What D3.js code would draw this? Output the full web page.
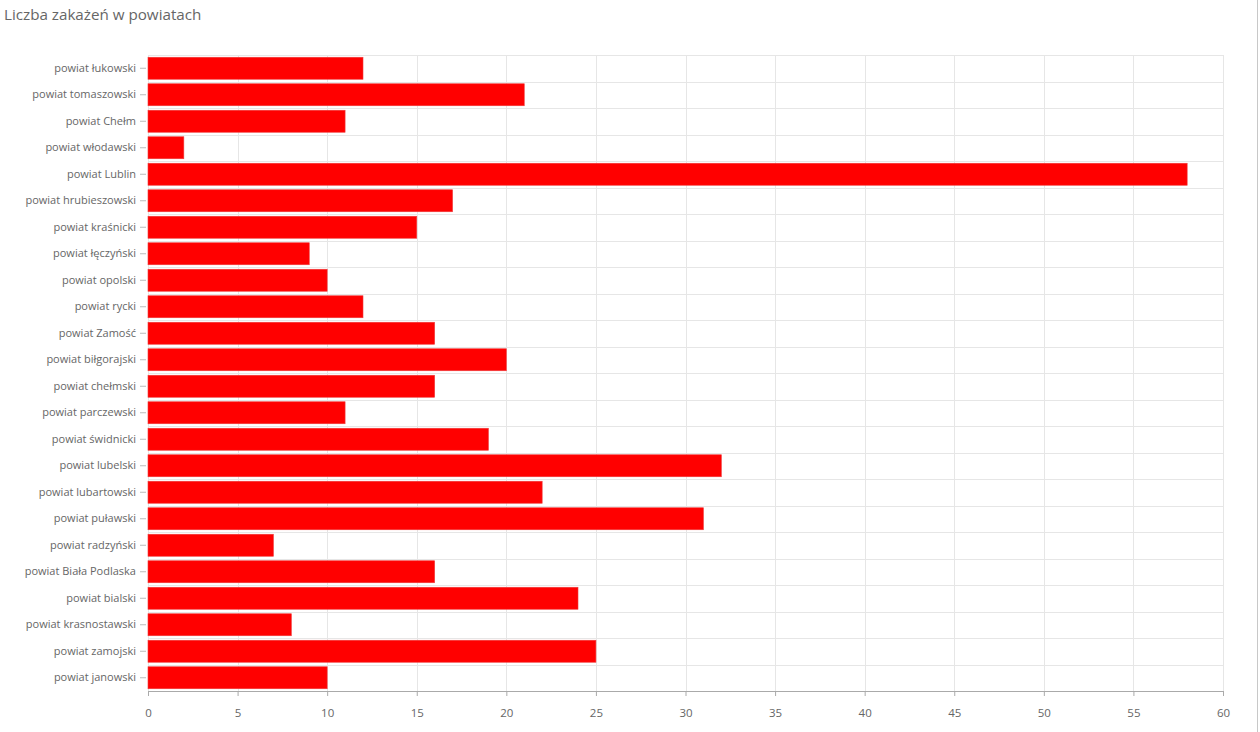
<!DOCTYPE html>
<head>
  <meta charset="utf-8">
  <script src="https://d3js.org/d3.v7.min.js"></script>
  <style>
    body { margin: 0; background: #fff; }
    svg { width: 1260px; height: 732px; display: block; font-family: "Open Sans", Lato, sans-serif; }
  </style>
</head>
<body>
  <svg></svg>
  <script>
    const powiaty = [
      'powiat łukowski', 'powiat tomaszowski', 'powiat Chełm', 'powiat włodawski',
      'powiat Lublin', 'powiat hrubieszowski', 'powiat kraśnicki', 'powiat łęczyński',
      'powiat opolski', 'powiat rycki', 'powiat Zamość', 'powiat biłgorajski',
      'powiat chełmski', 'powiat parczewski', 'powiat świdnicki', 'powiat lubelski',
      'powiat lubartowski', 'powiat puławski', 'powiat radzyński', 'powiat Biała Podlaska',
      'powiat bialski', 'powiat krasnostawski', 'powiat zamojski', 'powiat janowski'
    ];
    const zakazenia = [12, 21, 11, 2, 58, 17, 15, 9, 10, 12, 16, 20, 16, 11, 19, 32, 22, 31, 7, 16, 24, 8, 25, 10];
    const xTicks = [0, 5, 10, 15, 20, 25, 30, 35, 40, 45, 50, 55, 60];
    const title = 'Liczba zakażeń w powiatach';

    const svg = d3.select('svg');
    const margin = { top: 55, right: 37, bottom: 41, left: 148 };
    const W = 1260, H = 732;
    const innerW = W - margin.left - margin.right;
    const innerH = H - margin.top - margin.bottom;

    // page border on the right
    svg.append('line')
      .attr('x1', 1257.5).attr('x2', 1257.5).attr('y1', 0).attr('y2', H)
      .attr('stroke', '#c8c8c8');

    svg.append('text')
      .attr('x', 4).attr('y', 20)
      .attr('fill', '#666').attr('font-size', 15.2)
      .text(title);

    const x = d3.scaleLinear().domain([0, 60]).range([0, innerW]);
    const y = d3.scaleBand().domain(powiaty).range([0, innerH]).paddingInner(0.17).paddingOuter(0.085);

    const g = svg.append('g').attr('transform', `translate(${margin.left},${margin.top})`);

    // vertical grid
    g.selectAll('.vgrid').data(xTicks).enter().append('line')
      .attr('x1', d => Math.round(x(d)) + 0.5).attr('x2', d => Math.round(x(d)) + 0.5)
      .attr('y1', 0).attr('y2', innerH)
      .attr('stroke', '#e6e6e6');

    // horizontal grid at band boundaries
    const step = innerH / powiaty.length;
    g.selectAll('.hgrid').data(d3.range(powiaty.length)).enter().append('line')
      .attr('x1', 0).attr('x2', innerW)
      .attr('y1', d => Math.round(d * step) + 0.5).attr('y2', d => Math.round(d * step) + 0.5)
      .attr('stroke', '#e6e6e6');

    // bars
    g.selectAll('rect').data(powiaty).enter().append('rect')
      .attr('x', 0)
      .attr('y', d => y(d))
      .attr('width', (d, i) => x(zakazenia[i]))
      .attr('height', y.bandwidth())
      .attr('fill', '#ff0000')
      .attr('stroke', '#f03a3a')
      .attr('stroke-width', 0.6);

    // y axis
    const yAxis = g.append('g').call(d3.axisLeft(y).tickSize(6).tickPadding(6));
    yAxis.select('.domain').remove();
    yAxis.selectAll('line').attr('stroke', '#bbb').attr('transform', 'translate(-2,0)');
    yAxis.selectAll('text').attr('fill', '#666').attr('font-size', 11).attr('font-family', '"Open Sans", sans-serif');

    // x axis
    const xAxis = g.append('g').attr('transform', `translate(0,${innerH})`)
      .call(d3.axisBottom(x).tickValues(xTicks).tickSize(5).tickPadding(13));
    xAxis.select('.domain').attr('stroke', '#aaa').attr('d', `M0.5,0.5H${innerW + 0.5}`);
    xAxis.selectAll('line').attr('stroke', '#aaa');
    xAxis.selectAll('text').attr('fill', '#666').attr('font-size', 11.5).attr('font-family', '"Open Sans", sans-serif');
  </script>
</body>
